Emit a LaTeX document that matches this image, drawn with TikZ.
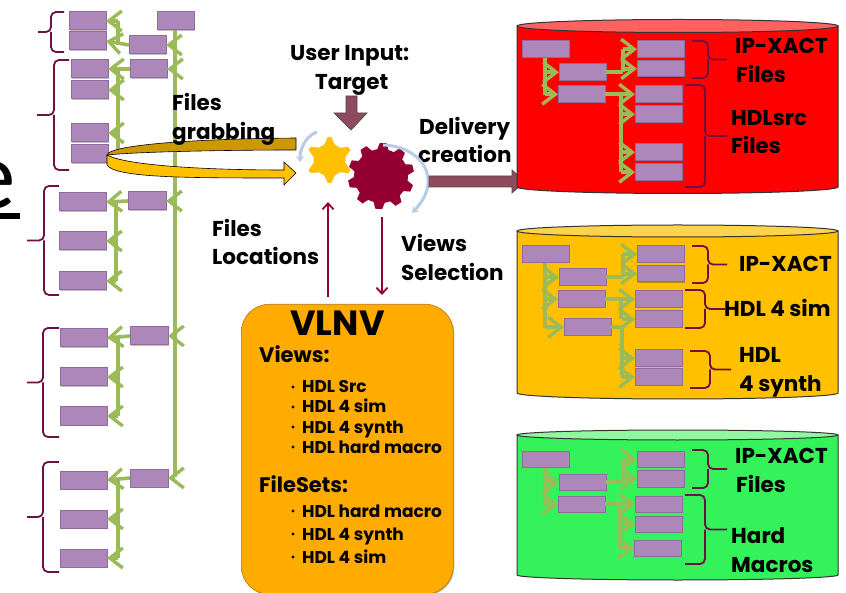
\documentclass[tikz,border=0pt]{standalone}
\usepackage{fontspec}
\setmainfont{Poppins}
\newfontfamily\bigfont{Carlito}
\usetikzlibrary{arrows.meta,shapes.geometric,shadows,calc}
\definecolor{boxfill}{HTML}{AD86BA}
\definecolor{boxline}{HTML}{8E6C9E}
\definecolor{grn}{HTML}{9BBB59}
\definecolor{brace}{HTML}{6E0F45}
\definecolor{maroon}{HTML}{8F4A5E}
\definecolor{gearA}{HTML}{FFC000}
\definecolor{gearB}{HTML}{950033}
\definecolor{arcblue}{HTML}{B8CCE4}
\definecolor{vlnv}{HTML}{FFAB00}
\definecolor{gold}{HTML}{CC9900}
\definecolor{drumG}{HTML}{33F25A}
\definecolor{drumGt}{HTML}{90F8A0}
\tikzset{
 bx/.style={draw=boxline,line width=1pt,fill=boxfill,minimum width=#1,minimum height=18pt,inner sep=0pt,outer sep=0pt,anchor=north west,drop shadow={shadow xshift=.7pt,shadow yshift=-.7pt,opacity=.25,fill=black}},
 bx/.default=47pt,
 short/.style={minimum height=16.5pt},
 lnk/.style={draw=grn,line width=3.6pt,-{Straight Barb[length=13pt,width=20pt,line width=3.4pt]}},
 trunk/.style={draw=grn,line width=3.8pt},
 brc/.style={draw=brace,line width=1.8pt,rounded corners=5pt},
 lbl/.style={font=\bfseries\fontsize{21.5}{21.5}\selectfont,anchor=west,inner sep=0pt,text height=15pt,text depth=0pt},
 head/.style={font=\bfseries\fontsize{21}{21}\selectfont,anchor=west,inner sep=0pt,text height=15pt,text depth=0pt},
 item/.style={font=\bfseries\fontsize{17}{17}\selectfont,anchor=west,inner sep=0pt,text height=12pt,text depth=0pt},
 cyl/.style={draw=black!80,line width=1pt},
 thinarr/.style={gearB,line width=2pt,-{Straight Barb[length=6pt,width=11pt,line width=1.8pt]}},
 blk/.style={draw=black!70,fill=maroon,line width=.7pt},
 blue/.style={arcblue,line width=3pt,-{Stealth[length=6pt,width=8pt]}},
}
\newcommand{\brc}[5]{\draw[brc] (#5,#1) -- (#4,#1) -- (#4,{(#1+#2)/2}) -- (#3,{(#1+#2)/2}) (#4,{(#1+#2)/2}) -- (#4,#2) -- (#5,#2);}
\newcommand{\cylinder}[7]{% x0,x1,top,bottom,fill,topfill,ry
 \fill[#5] (#1,#3) -- (#1,#4) arc[start angle=180,end angle=0,x radius={(#2-#1)/2},y radius=#7] -- (#2,#3) -- cycle;
 \draw[cyl] (#1,#3) -- (#1,#4) arc[start angle=180,end angle=0,x radius={(#2-#1)/2},y radius=#7] -- (#2,#3);
 \draw[cyl,fill=#6] ({(#1+#2)/2},#3) ellipse[x radius={(#2-#1)/2},y radius=#7];
}
\begin{document}
\begin{tikzpicture}[x=1pt,y=-1pt]
\useasboundingbox (0,0) rectangle (846,593);
\fill[white] (0,0) rectangle (846,593);
\begin{scope}
\clip (0,0) rectangle (846,593);
\node[font=\bigfont\fontsize{97}{97}\selectfont,inner sep=0pt,anchor=base] (bigE) at (-8,209) {e};
\fill[black] (0,213) rectangle (20,219);
\end{scope}

\node[bx=37pt] (l0) at (157,12) {};
\node[bx=37pt] (m1) at (129,36) {};
\node[bx=37pt] (m2) at (130,60) {};
\node[bx=38pt] (m3) at (128,192) {};
\node[bx=38pt] (m4) at (130,327) {};
\node[bx=38pt] (m5) at (130,469) {};
\node[bx=37pt] (a1) at (69,12) {};
\node[bx=37pt] (a2) at (69,32) {};
\node[bx=37pt] (b1) at (71,60) {};
\node[bx=37pt] (b2) at (71,81) {};
\node[bx=37pt] (b3) at (71,124) {};
\node[bx=37pt] (b4) at (71,145) {};
\node[bx=47pt] (c1) at (59,193) {};
\node[bx=47pt] (c2) at (59,232) {};
\node[bx=47pt] (c3) at (59,272) {};
\node[bx=47pt] (d1) at (60,329) {};
\node[bx=47pt] (d2) at (60,368) {};
\node[bx=47pt] (d3) at (60,407) {};
\node[bx=47pt] (e1) at (60,471) {};
\node[bx=47pt] (e2) at (60,510) {};
\node[bx=47pt] (e3) at (60,549) {};

\draw[trunk] (175,30) -- (175,477);
\foreach \n in {m1,m2,m3,m4,m5}{\draw[lnk] (175,0 |- \n.east) -- (\n.east);}
\draw[trunk] (118,21) -- (118,45);
\draw[lnk] (118,0 |- a1.east) -- (a1.east);
\draw[lnk] (m1.west) -- (a2.east);
\draw[trunk] (118,69) -- (118,152);
\draw[lnk] (m2.west) -- (b1.east);
\foreach \n in {b2,b3}{\draw[lnk] (118,0 |- \n.east) -- (\n.east);}
\draw[trunk] (116,201) -- (116,281);
\draw[lnk] (m3.west) -- (c1.east);
\foreach \n in {c2,c3}{\draw[lnk] (116,0 |- \n.east) -- (\n.east);}
\draw[trunk] (118,337) -- (118,416);
\draw[lnk] (m4.west) -- (d1.east);
\foreach \n in {d2,d3}{\draw[lnk] (118,0 |- \n.east) -- (\n.east);}
\draw[trunk] (118,480) -- (118,558);
\draw[lnk] (m5.west) -- (e1.east);
\foreach \n in {e2,e3}{\draw[lnk] (118,0 |- \n.east) -- (\n.east);}

\brc{12}{52}{38}{51}{64}
\brc{60}{170}{37}{54}{69}
\brc{186}{295}{27}{44}{59}
\brc{328}{437}{27}{43}{59}
\brc{462}{572}{27}{43}{59}

\draw[black,line width=.6pt,fill=gold] (296,138) -- (296,150) .. controls (220,150) and (135,152) .. (107,155) .. controls (108,146) and (180,139) .. (296,138) -- cycle;
\draw[black,line width=.6pt,fill=gearA] (107,155) .. controls (125,165) and (200,170) .. (284,170) -- (284,162) -- (296,173) -- (284,185) -- (284,178) .. controls (190,178) and (115,178) .. (107,165) -- cycle;

\node[lbl] (t1) at (172,103) {Files};
\node[lbl] (t2) at (172,132) {grabbing};
\node[lbl] (t3) at (212,229) {Files};
\node[lbl] (t4) at (212,257) {Locations};

\node[lbl] (t5) at (290,53) {User Input:};
\node[lbl] (t6) at (315,82) {Target};
\node[lbl] (t7) at (419,127) {Delivery};
\node[lbl] (t8) at (418,155) {creation};
\node[lbl] (t9) at (401,244) {Views};
\node[lbl] (t10) at (401,273) {Selection};

% gears
\fill[gearA] (329.5,160) circle[radius=16];
\foreach \a in {0,60,...,300}{
 \fill[gearA,shift={(329.5,160)},rotate=\a] (-6,-14) -- (-1.8,-23) -- (1.8,-23) -- (6,-14) -- cycle;}
\fill[gearB] (381,176) circle[radius=27];
\foreach \a in {-4,32,...,320}{
 \fill[gearB,shift={(381,176)},rotate=\a] (-6,-25) -- (-3.5,-33) -- (3.5,-33) -- (6,-25) -- cycle;}
\draw[blue] (317,132) .. controls (306,136) and (300,148) .. (300,162);
\draw[blue] (383,145) .. controls (420,146) and (445,178) .. (412,213);

% block arrows
\draw[blk] (346,96) -- (357,96) -- (357,113) -- (367,113) -- (351,130) -- (334,113) -- (346,113) -- cycle;
\draw[blk] (429,176) -- (512,176) -- (512,170) -- (525,181.5) -- (512,193) -- (512,187) -- (429,187) -- cycle;

\node[draw=vlnv!70!black,line width=.6pt,fill=vlnv,rounded corners=28pt,minimum width=212pt,minimum height=290pt,inner sep=0pt,anchor=north west,drop shadow={shadow xshift=1pt,shadow yshift=-1pt,opacity=.25,fill=black}] (vl) at (241,304) {};
\draw[thinarr] (328,297) -- (328,202);
\draw[thinarr] (382,217) -- (382,295);

\node[font=\bfseries\fontsize{35}{35}\selectfont,inner sep=0pt,text height=24pt,text depth=0pt] (v0) at (337.5,323.5) {VLNV};
\node[head] (v1) at (259,355.5) {Views:};
\node[head] (v2) at (259,485) {FileSets:};
\foreach \y/\t in {387/HDL Src,407/HDL 4 sim,427/HDL 4 synth,447/HDL hard macro,511/HDL hard macro,534/HDL 4 synth,557/HDL 4 sim}{
 \node[item] at (302,\y) {\t};
 \fill[black] (293,\y) circle[radius=1.7];
}

\cylinder{517}{838}{26}{187}{red}{red!62!white}{6.5}
\node[bx=47pt,short] (r0) at (522,41) {};
\node[bx=47pt,short] (r1) at (559,64) {};
\node[bx=47pt,short] (r2) at (558,86) {};
\node[bx=47pt,short] (r3) at (637,41) {};
\node[bx=47pt,short] (r4) at (637,60.5) {};
\node[bx=47pt,short] (r5) at (635,86) {};
\node[bx=47pt,short] (r6) at (635,106) {};
\node[bx=47pt,short] (r7) at (635,144) {};
\node[bx=47pt,short] (r8) at (635,164) {};
\draw[trunk] (545,58) -- (545,95);
\foreach \n in {r1,r2}{\draw[lnk] (545,0 |- \n.west) -- (\n.west);}
\draw[trunk] (r1.east) -- (623,0 |- r1.east);
\draw[trunk] (623,49) -- (623,0 |- r1.east);
\foreach \n in {r3,r4}{\draw[lnk] (623,0 |- \n.west) -- (\n.west);}
\draw[trunk] (r2.east) -- (621,0 |- r2.east) -- (621,172);
\foreach \n in {r5,r6,r7,r8}{\draw[lnk] (621,0 |- \n.west) -- (\n.west);}
\brc{41}{78}{727}{708}{692}
\brc{85}{187}{727}{705}{685}
\node[lbl] (x1) at (735,46.5) {IP-XACT};
\node[lbl] (x2) at (736,75) {Files};
\node[lbl] (x3) at (731,118) {HDLsrc};
\node[lbl] (x4) at (731,146) {Files};

\cylinder{517}{838}{231}{393}{gearA}{gearA!70!white}{6}
\node[bx=47pt,short] (o0) at (522,246) {};
\node[bx=47pt,short] (o1) at (559,269) {};
\node[bx=47pt,short] (o2) at (558,291) {};
\node[bx=47pt,short] (o3) at (564,319) {};
\node[bx=47pt,short] (o4) at (637,246) {};
\node[bx=47pt,short] (o5) at (637,265.5) {};
\node[bx=47pt,short] (o6) at (635,291) {};
\node[bx=47pt,short] (o7) at (635,311) {};
\node[bx=47pt,short] (o8) at (635,350) {};
\node[bx=47pt,short] (o9) at (635,369) {};
\draw[trunk] (545,263) -- (545,328);
\foreach \n in {o1,o2,o3}{\draw[lnk] (545,0 |- \n.west) -- (\n.west);}
\draw[trunk] (o1.east) -- (623,0 |- o1.east);
\draw[trunk] (623,254) -- (623,0 |- o1.east);
\foreach \n in {o4,o5}{\draw[lnk] (623,0 |- \n.west) -- (\n.west);}
\draw[trunk] (o2.east) -- (621,0 |- o2.east) -- (621,319);
\draw[trunk] (o3.east) -- (622,0 |- o3.east) -- (622,378);
\foreach \n in {o6,o7,o8,o9}{\draw[lnk] (622,0 |- \n.west) -- (\n.west);}
\brc{246}{283}{727}{708}{692}
\brc{290}{328}{725}{705}{685}
\brc{351}{388}{731}{710}{690}
\node[lbl] (y1) at (739,264) {IP-XACT};
\node[lbl] (y2) at (724,309) {HDL 4 sim};
\node[lbl] (y3) at (739,355) {HDL};
\node[lbl] (y4) at (739,384) {4 synth};

\cylinder{517}{838}{435}{575}{drumG}{drumGt}{5}
\node[bx=47pt,short] (g0) at (522,451) {};
\node[bx=47pt,short] (g1) at (559,474) {};
\node[bx=47pt,short] (g2) at (558,496) {};
\node[bx=47pt,short] (g3) at (637,451) {};
\node[bx=47pt,short] (g4) at (637,470.5) {};
\node[bx=47pt,short] (g5) at (635,496) {};
\node[bx=47pt,short] (g6) at (635,516) {};
\node[bx=47pt,short] (g7) at (634,540) {};
\draw[trunk] (545,468) -- (545,505);
\foreach \n in {g1,g2}{\draw[lnk] (545,0 |- \n.west) -- (\n.west);}
\draw[trunk] (g1.east) -- (623,0 |- g1.east);
\draw[trunk] (623,459) -- (623,0 |- g1.east);
\foreach \n in {g3,g4}{\draw[lnk] (623,0 |- \n.west) -- (\n.west);}
\draw[trunk] (g2.east) -- (620,0 |- g2.east) -- (620,549);
\foreach \n in {g5,g6,g7}{\draw[lnk] (620,0 |- \n.west) -- (\n.west);}
\brc{450}{488}{727}{708}{692}
\brc{495}{564}{727}{705}{685}
\node[lbl] (z1) at (735,456) {IP-XACT};
\node[lbl] (z2) at (736,485) {Files};
\node[lbl] (z3) at (731,536) {Hard};
\node[lbl] (z4) at (731,565) {Macros};
\end{tikzpicture}
\end{document}
